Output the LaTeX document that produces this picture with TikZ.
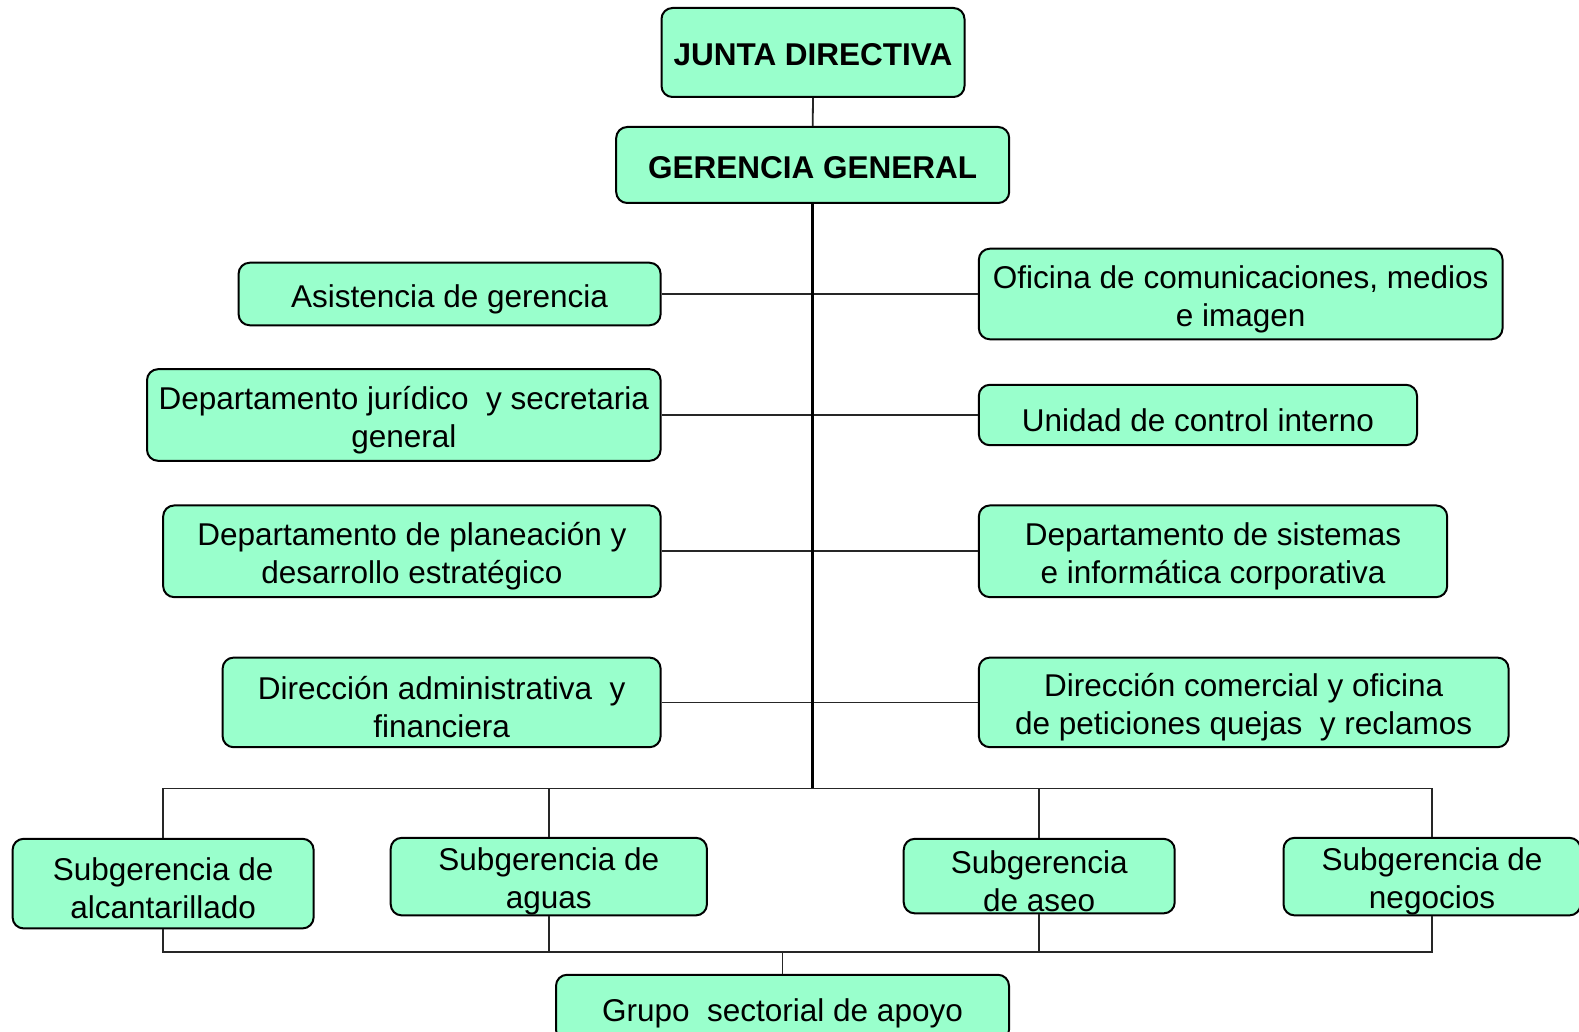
\documentclass[tikz,border=0pt]{standalone}
\usepackage{fontspec}
\setmainfont{Liberation Sans}
\definecolor{boxfill}{HTML}{99FFCC}
\newcommand{\tstr}{\rule{0pt}{33pt}}
\newcommand{\hstr}{\rule{0pt}{27pt}}
\begin{document}
\begin{tikzpicture}[x=1pt,y=-1pt,
  basebox/.style={draw=black, line width=2pt, fill=boxfill, rounded corners=11pt,
    inner sep=0pt, align=center},
  orgbox/.style={basebox, font=\fontsize{31.5}{38}\selectfont},
  headbox/.style={basebox, font=\fontsize{31.5}{38}\selectfont\bfseries},
  thinline/.style={line width=1.8pt, draw=black!85},
  mainline/.style={line width=3.5pt, draw=black}]
\useasboundingbox[fill=white] (0,0) rectangle (1579,1032);

% top
\node[headbox, minimum width=303pt, minimum height=89pt] (jd) at (813,52.5) {\hstr JUNTA DIRECTIVA};
\node[headbox, minimum width=393pt, minimum height=76pt] (gg) at (812.7,165) {\hstr GERENCIA GENERAL};

% left column
\node[orgbox, minimum width=422pt, minimum height=62.5pt] (asis) at (449.6,294) {\tstr Asistencia de gerencia};
\node[orgbox, minimum width=513.6pt, minimum height=91.6pt] (jur) at (403.8,415) {\tstr Departamento jurídico \ y secretaria\\general};
\node[orgbox, minimum width=497.5pt, minimum height=91.7pt] (plan) at (411.9,551.3) {\tstr Departamento de planeación y\\desarrollo estratégico};
\node[orgbox, minimum width=438pt, minimum height=89.6pt] (adm) at (441.6,702.4) {\tstr Dirección administrativa \ y\\financiera};

% right column
\node[orgbox, minimum width=523.7pt, minimum height=90.6pt] (ofi) at (1240.7,294) {\tstr Oficina de comunicaciones, medios\\e imagen};
\node[orgbox, minimum width=438.2pt, minimum height=60.4pt] (uni) at (1197.9,415) {\tstr Unidad de control interno};
\node[orgbox, minimum width=468.3pt, minimum height=91.7pt] (sis) at (1213,551.3) {\tstr Departamento de sistemas\\e informática corporativa};
\node[orgbox, minimum width=529.7pt, minimum height=89.6pt] (com) at (1243.7,702.4) {\tstr Dirección comercial y oficina\\de peticiones quejas \ y reclamos};

% subgerencias
\node[orgbox, minimum width=301pt, minimum height=89.6pt] (alc) at (163.1,883.6) {\tstr Subgerencia de\\alcantarillado};
\node[orgbox, minimum width=316.2pt, minimum height=75.5pt] (agu) at (548.8,876.6) {\tstr Subgerencia de\\aguas};
\node[orgbox, minimum width=271pt, minimum height=74.5pt] (ase) at (1039.2,876.1) {\tstr Subgerencia\\de aseo};
\node[orgbox, minimum width=297pt, minimum height=75.5pt] (neg) at (1432,876.6) {\tstr Subgerencia de\\negocios};

% grupo
\node[orgbox, minimum width=453pt, minimum height=66pt] (gru) at (782.5,1007.8) {\tstr Grupo \ sectorial de apoyo};

\coordinate (bus) at (812.7,788.5);
\coordinate (lbus) at (782.5,951.6);

% connectors
\draw[thinline] (jd.south) -- (gg.north);
\draw[thinline] (asis.east) -- (ofi.west);
\draw[thinline] (jur.east) -- (uni.west);
\draw[thinline] (plan.east) -- (sis.west);
\draw[thinline] (adm.east) -- (com.west);
\draw[mainline] (gg.south) -- (bus);

\draw[thinline] (alc.north) |- (bus) -| (neg.north);
\draw[thinline] (agu.north) -- (agu.north |- bus);
\draw[thinline] (ase.north) -- (ase.north |- bus);

\draw[thinline] (alc.south) |- (lbus) -| (neg.south);
\draw[thinline] (agu.south) -- (agu.south |- lbus);
\draw[thinline] (ase.south) -- (ase.south |- lbus);
\draw[thinline] (gru.north) -- (lbus);
\end{tikzpicture}
\end{document}
